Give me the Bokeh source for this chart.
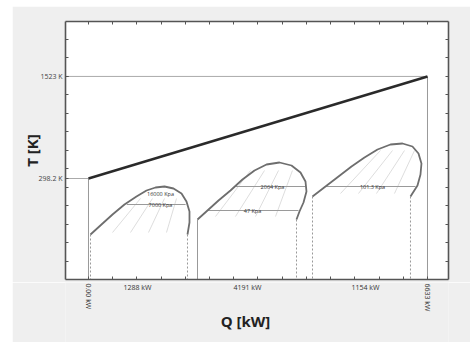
import math
from bokeh.plotting import figure
from bokeh.models import (LinearAxis, FixedTicker, CustomJSTickFormatter,
                          Range1d, Spacer)
from bokeh.layouts import column, row
from bokeh.core.properties import value
from bokeh.embed import file_html
from bokeh.resources import INLINE

FONT = "Open Sans"

# ---- data (schematic T-Q diagram) ----
T_REF = [298.2, 1523.0]            # K, tick labels on T axis
Q_REF = [0.0, 6633.0]              # kW, start/end of heat release
Q_REF_LABELS = ["0.00 kW", "6633 kW"]
SEG_Q = [959, 3111, 5420]
SEG_LABELS = ["1288 kW", "4191 kW", "1154 kW"]

dome1_q = [39, 254, 470, 704, 939, 1135, 1311, 1487, 1663, 1820, 1917, 1976, 1976, 1937]
dome1_t = [-373.8, -253.8, -133.8, -13.8, 82.2, 154.2, 190.2, 202.2, 178.2, 118.2, 22.2, -97.8, -229.8, -373.8]
dome2_q = [2133, 2328, 2544, 2778, 3013, 3248, 3483, 3737, 3972, 4148, 4246, 4265, 4207, 4128, 4070]
dome2_t = [-193.8, -85.8, 34.2, 154.2, 286.2, 394.2, 466.2, 490.2, 454.2, 370.2, 262.2, 142.2, 10.2, -97.8, -193.8]
dome3_q = [4383, 4637, 4892, 5146, 5400, 5655, 5909, 6144, 6339, 6457, 6515, 6496, 6437, 6300]
dome3_t = [82.2, 202.2, 322.2, 442.2, 550.2, 646.2, 706.2, 718.2, 682.2, 598.2, 478.2, 346.2, 214.2, 82.2]

iso_q0 = [750, 2876, 2328, 4637]
iso_q1 = [1900, 4246, 4109, 6398]
iso_t = [-13.8, 202.2, -85.8, 202.2]
iso_text = ["16000 Kpa", "7000 Kpa", "2064 Kpa", "47 Kpa", "101.3 Kpa"]
iso_text_q = [1409, 1409, 3600, 3209, 5557]
iso_text_t = [118.2, -13.8, 202.2, -85.8, 202.2]

hatch_q0 = [1017, 1252, 1487, 1722, 3170, 3444, 3718, 3991, 5713, 5948, 6183, 6379]
hatch_t0 = [58.2] * 4 + [394.2] * 4 + [634.2] * 4
hatch_q1 = [470, 822, 1174, 1526, 2485, 2876, 3268, 3659, 4931, 5283, 5635, 5987]
hatch_t1 = [-349.8] * 4 + [-157.8] * 4 + [118.2] * 4

Q_MIN, Q_MAX = -450, 7044
T_MIN, T_MAX = -913.8, 2182.2

GRAY = "#efefef"
xr = Range1d(Q_MIN, Q_MAX)

p = figure(width=458, height=276, x_range=xr,
           y_range=Range1d(T_MIN, T_MAX), output_backend="svg",
           toolbar_location=None, x_axis_location=None, y_axis_location=None,
           min_border_left=53, min_border_right=22, min_border_top=15,
           min_border_bottom=3, border_fill_color=GRAY,
           background_fill_color="white", outline_line_color=None)
p.grid.visible = False

q_minor = [Q_REF[1] * i / 14 for i in range(15)]
t_minor = [T_REF[1] + 222 * k for k in range(-10, 3)]

def mk_axis(loc, major, minor, labels):
    ax = LinearAxis(ticker=FixedTicker(ticks=major, minor_ticks=minor))
    ax.axis_line_color = "#555555"
    ax.axis_line_width = 1.6
    ax.major_tick_in = 3
    ax.major_tick_out = 0
    ax.minor_tick_in = 3
    ax.minor_tick_out = 0
    ax.major_tick_line_color = "#555555"
    ax.minor_tick_line_color = "#555555"
    if labels:
        ax.formatter = CustomJSTickFormatter(code="return (Math.round(tick*10)/10) + ' K';")
        ax.major_label_text_font = FONT
        ax.major_label_text_font_size = "7px"
        ax.major_label_text_color = "#444444"
        ax.major_label_standoff = 3
        ax.axis_label = "T [K]"
        ax.axis_label_text_font = FONT
        ax.axis_label_text_font_size = "15px"
        ax.axis_label_text_font_style = "bold"
        ax.axis_label_text_color = "#222222"
        ax.axis_label_standoff = -6
    else:
        ax.major_label_text_font_size = "0px"
    p.add_layout(ax, loc)

mk_axis("left", T_REF, t_minor, True)
mk_axis("right", [], t_minor, False)
mk_axis("below", [], q_minor, False)
mk_axis("above", [], q_minor, False)

# reference lines
p.line([Q_MIN, Q_REF[1]], [T_REF[1], T_REF[1]], line_color="#aaaaaa", line_width=1)
p.line([Q_MIN, Q_REF[0]], [T_REF[0], T_REF[0]], line_color="#aaaaaa", line_width=1)
p.line([Q_REF[0], Q_REF[0]], [T_REF[0], T_MIN], line_color="#999999", line_width=1)
p.line([Q_REF[1], Q_REF[1]], [T_REF[1], T_MIN], line_color="#999999", line_width=1)

# drop lines under domes
for dq, dt, solid_left in [(dome1_q, dome1_t, False), (dome2_q, dome2_t, True), (dome3_q, dome3_t, False)]:
    p.line([dq[0], dq[0]], [dt[0], T_MIN], line_color="#999999", line_width=1,
           line_dash="solid" if solid_left else "2 2")
    p.line([dq[-1], dq[-1]], [dt[-1], T_MIN], line_color="#999999", line_width=1, line_dash="2 2")

# hatch (quality) lines
p.segment(hatch_q0, hatch_t0, hatch_q1, hatch_t1, line_color="#d4d4d4", line_width=0.8)

# isobars
p.segment(iso_q0, iso_t, iso_q1, iso_t, line_color="#9a9a9a", line_width=1)
p.text(iso_text_q, iso_text_t, text=iso_text, text_font=value(FONT), text_font_size="5.5px",
       text_align="center", text_baseline="middle", text_color="#333333")

# domes
for dq, dt in [(dome1_q, dome1_t), (dome2_q, dome2_t), (dome3_q, dome3_t)]:
    p.line(dq, dt, line_color="#6e6e6e", line_width=1.8)

# hot stream line
p.line(Q_REF, T_REF, line_color="#2a2a2a", line_width=2.6)

# ---- strip below the axis, sharing the Q scale, for the kW labels ----
pb = figure(width=458, height=60, x_range=xr, y_range=Range1d(-60, 0),
            output_backend="svg", toolbar_location=None,
            x_axis_location=None, y_axis_location=None,
            min_border_left=53, min_border_right=22, min_border_top=0,
            min_border_bottom=0, border_fill_color=GRAY,
            background_fill_color=GRAY, outline_line_color=None)
pb.grid.visible = False
pb.text(SEG_Q, [-5] * len(SEG_Q), text=SEG_LABELS, text_font=value(FONT),
        text_font_size="7px", text_align="center", text_baseline="middle",
        text_color="#333333")
pb.text(Q_REF, [-1] * len(Q_REF), text=Q_REF_LABELS, text_font=value(FONT),
        text_font_size="7px", text_align="left", text_baseline="middle",
        angle=-math.pi / 2, text_color="#333333")
pb.text([3072], [-38], text=["Q [kW]"], text_font=value(FONT), text_font_size="15px",
        text_font_style="bold", text_align="center", text_baseline="middle",
        text_color="#222222")

layout = column(Spacer(height=6, width=470),
                row(Spacer(width=12, height=336), column(p, pb)))
open("out.html", "w").write(file_html(layout, INLINE))
